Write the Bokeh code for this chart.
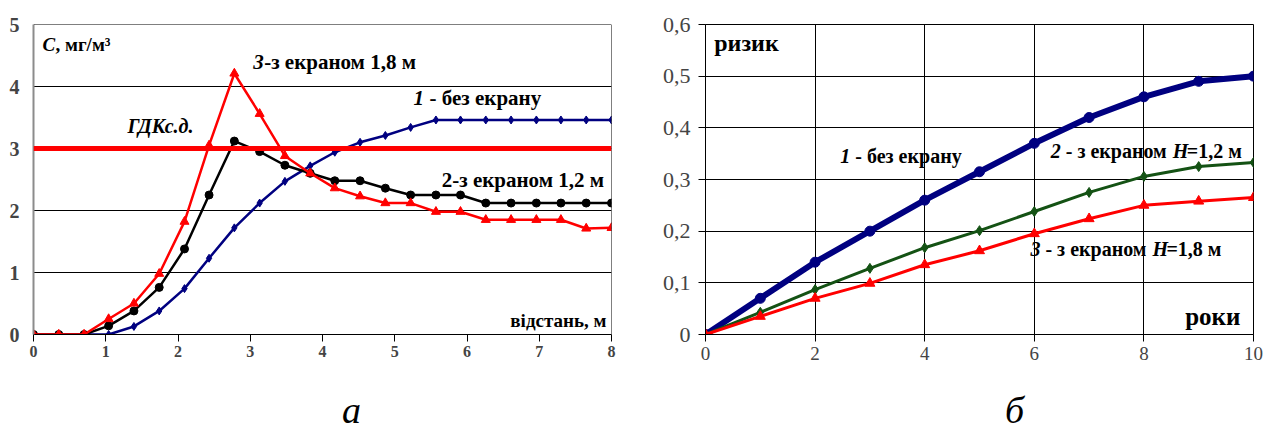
from bokeh.plotting import figure
from bokeh.layouts import row, column
from bokeh.models import Range1d, FixedTicker, Span, Label, CustomJSTickFormatter
from bokeh.core.properties import value
from bokeh.embed import file_html
from bokeh.resources import INLINE

FONT = "Liberation Serif"

# ---------- Panel а: concentration vs distance ----------
dist = [0.0, 0.35, 0.70, 1.04, 1.39, 1.74, 2.09, 2.43, 2.78, 3.13, 3.48, 3.83,
        4.17, 4.52, 4.87, 5.22, 5.57, 5.91, 6.26, 6.61, 6.96, 7.30, 7.65, 8.0]
c_no_screen = [0, 0, 0, 0, 0.13, 0.38, 0.74, 1.23, 1.72, 2.12, 2.47, 2.72,
               2.94, 3.10, 3.21, 3.34, 3.46, 3.46, 3.46, 3.46, 3.46, 3.46, 3.46, 3.46]
c_screen_12 = [0, 0, 0, 0.14, 0.38, 0.76, 1.38, 2.25, 3.12, 2.95, 2.73, 2.60,
               2.48, 2.48, 2.36, 2.25, 2.25, 2.25, 2.12, 2.12, 2.12, 2.12, 2.12, 2.12]
c_screen_18 = [0, 0, 0, 0.25, 0.50, 0.98, 1.82, 3.05, 4.21, 3.56, 2.88, 2.60,
               2.36, 2.23, 2.12, 2.12, 1.98, 1.98, 1.85, 1.85, 1.85, 1.85, 1.71, 1.72]
gdk = 3.0
x_ticks_a = [0, 1, 2, 3, 4, 5, 6, 7, 8]
y_ticks_a = [0, 1, 2, 3, 4, 5]

# ---------- Panel б: risk vs years ----------
years = [0, 1, 2, 3, 4, 5, 6, 7, 8, 9, 10]
risk_no_screen = [0, 0.070, 0.140, 0.200, 0.260, 0.315, 0.370, 0.420, 0.460, 0.490, 0.500]
risk_screen_12 = [0, 0.043, 0.087, 0.128, 0.168, 0.201, 0.238, 0.275, 0.306, 0.325, 0.333]
risk_screen_18 = [0, 0.035, 0.070, 0.099, 0.135, 0.162, 0.195, 0.224, 0.250, 0.258, 0.265]
x_ticks_b = [0, 2, 4, 6, 8, 10]
y_ticks_b = [0, 0.1, 0.2, 0.3, 0.4, 0.5, 0.6]

NAVY = "#000080"
GREEN = "#145214"
RED = "#FF0000"


def lab(p, x, y, text, size, style="bold", align="left", xoff=0, baseline="middle"):
    p.add_layout(Label(x=x, y=y, text=text, text_font=FONT, text_font_size=size,
                       text_font_style=style, text_align=align, text_baseline=baseline,
                       x_offset=xoff, text_color="black"))


def caption_fig(x_range, left, right, x, text):
    c = figure(width=636, height=60, x_range=x_range, y_range=Range1d(0, 1),
               output_backend="svg", toolbar_location=None,
               min_border_left=left, min_border_right=right, min_border_top=0, min_border_bottom=0)
    c.axis.visible = False
    c.grid.grid_line_color = None
    c.outline_line_color = None
    c.background_fill_color = "white"
    c.border_fill_color = "white"
    c.text(x=[x], y=[0.39], text=[text], text_font=value(FONT), text_font_size="38px",
           text_font_style="italic", text_align="center", text_baseline="alphabetic",
           text_color="black")
    return c


# ================= Panel а =================
p1 = figure(width=636, height=373, x_range=Range1d(0, 8), y_range=Range1d(0, 5),
            output_backend="svg", toolbar_location=None,
            min_border_left=33, min_border_right=25, min_border_top=22, min_border_bottom=35)
p1.outline_line_color = None
p1.background_fill_color = "white"
p1.border_fill_color = "white"

p1.xaxis.ticker = FixedTicker(ticks=x_ticks_a)
p1.xaxis.major_label_text_font = FONT
p1.xaxis.major_label_text_font_style = "bold"
p1.xaxis.major_label_text_font_size = "16px"
p1.xaxis.major_tick_out = 7
p1.xaxis.major_tick_in = 0
p1.xaxis.minor_tick_line_color = None
p1.xaxis.axis_line_color = "black"
p1.xaxis.major_tick_line_color = "black"
p1.xaxis.major_label_standoff = 4

p1.yaxis.ticker = FixedTicker(ticks=y_ticks_a)
p1.yaxis.major_label_text_font = FONT
p1.yaxis.major_label_text_font_style = "bold"
p1.yaxis.major_label_text_font_size = "20px"
p1.yaxis.major_tick_out = 0
p1.yaxis.major_tick_in = 0
p1.yaxis.minor_tick_line_color = None
p1.yaxis.axis_line_color = "#8c8c8c"
p1.yaxis.axis_line_width = 2
p1.yaxis.major_label_standoff = 14

p1.xgrid.grid_line_color = None
p1.ygrid.grid_line_color = "black"
p1.ygrid.grid_line_width = 1
p1.ygrid.ticker = FixedTicker(ticks=y_ticks_a)

p1.add_layout(Span(location=8, dimension="height", line_color="black", line_width=1))
p1.add_layout(Span(location=5, dimension="width", line_color="black", line_width=1))
p1.add_layout(Span(location=gdk, dimension="width", line_color=RED, line_width=5))

p1.line(dist, c_no_screen, line_color=NAVY, line_width=2.5)
p1.scatter(dist, c_no_screen, marker="diamond", size=8, fill_color=NAVY, line_color=NAVY)
p1.line(dist, c_screen_12, line_color="black", line_width=2.5)
p1.scatter(dist, c_screen_12, marker="circle", size=8, fill_color="black", line_color="black")
p1.line(dist, c_screen_18, line_color=RED, line_width=2.5)
p1.scatter(dist, c_screen_18, marker="triangle", size=9, fill_color=RED, line_color=RED)

lab(p1, 0.125, 4.68, "C", "19px", "bold italic")
lab(p1, 0.125, 4.68, ", мг/м³", "19px", "bold", xoff=13)
lab(p1, 3.04, 4.40, "3", "21px", "bold italic")
lab(p1, 3.04, 4.40, "-з екраном 1,8 м", "21px", "bold", xoff=11)
lab(p1, 5.26, 3.81, "1", "21px", "bold italic")
lab(p1, 5.26, 3.81, "- без екрану", "21px", "bold", xoff=16)
lab(p1, 1.30, 3.37, "ГДКс.д.", "20px", "bold italic")
lab(p1, 5.65, 2.50, "2-з екраном 1,2 м", "21px", "bold")
lab(p1, 7.93, 0.22, "відстань, м", "19px", "bold", align="right")

# ================= Panel б =================
p2 = figure(width=636, height=373, x_range=Range1d(0, 10), y_range=Range1d(0, 0.6),
            output_backend="svg", toolbar_location=None,
            min_border_left=69, min_border_right=19, min_border_top=24, min_border_bottom=39)
p2.outline_line_color = "black"
p2.outline_line_width = 1
p2.background_fill_color = "white"
p2.border_fill_color = "white"

p2.xaxis.ticker = FixedTicker(ticks=x_ticks_b)
p2.xaxis.major_label_text_font = FONT
p2.xaxis.major_label_text_font_style = "normal"
p2.xaxis.major_label_text_font_size = "19px"
p2.xaxis.major_tick_out = 7
p2.xaxis.major_tick_in = 0
p2.xaxis.minor_tick_line_color = None
p2.xaxis.axis_line_color = "black"
p2.xaxis.major_label_standoff = 5

p2.yaxis.ticker = FixedTicker(ticks=y_ticks_b)
p2.yaxis.formatter = CustomJSTickFormatter(
    code="return Math.abs(tick) < 1e-9 ? '0' : tick.toFixed(1).replace('.', ',');")
p2.yaxis.major_label_text_font = FONT
p2.yaxis.major_label_text_font_style = "normal"
p2.yaxis.major_label_text_font_size = "22px"
p2.yaxis.major_tick_out = 7
p2.yaxis.major_tick_in = 0
p2.yaxis.minor_tick_line_color = None
p2.yaxis.axis_line_color = "black"
p2.yaxis.major_label_standoff = 8

p2.xgrid.grid_line_color = "black"
p2.xgrid.ticker = FixedTicker(ticks=x_ticks_b)
p2.ygrid.grid_line_color = "black"
p2.ygrid.ticker = FixedTicker(ticks=y_ticks_b)

p2.line(years, risk_no_screen, line_color=NAVY, line_width=6)
p2.scatter(years, risk_no_screen, marker="circle", size=10, fill_color=NAVY, line_color=NAVY)
p2.line(years, risk_screen_12, line_color=GREEN, line_width=3)
p2.scatter(years, risk_screen_12, marker="diamond", size=10, fill_color=GREEN, line_color=GREEN)
p2.line(years, risk_screen_18, line_color=RED, line_width=3)
p2.scatter(years, risk_screen_18, marker="triangle", size=10, fill_color=RED, line_color=RED)

lab(p2, 0.16, 0.565, "ризик", "24px", "bold")
lab(p2, 2.46, 0.346, "1", "20px", "bold italic")
lab(p2, 2.46, 0.346, "- без екрану", "20px", "bold", xoff=15)
lab(p2, 6.30, 0.356, "2", "20px", "bold italic")
lab(p2, 6.30, 0.356, "- з екраном", "20px", "bold", xoff=15)
lab(p2, 6.30, 0.356, "H", "20px", "bold italic", xoff=122)
lab(p2, 6.30, 0.356, "=1,2 м", "20px", "bold", xoff=136)
lab(p2, 5.93, 0.166, "3", "20px", "bold italic")
lab(p2, 5.93, 0.166, "- з екраном", "20px", "bold", xoff=15)
lab(p2, 5.93, 0.166, "H", "20px", "bold italic", xoff=122)
lab(p2, 5.93, 0.166, "=1,8 м", "20px", "bold", xoff=136)
lab(p2, 9.76, 0.035, "роки", "25px", "bold", align="right")

# ================= Captions =================
c1 = caption_fig(p1.x_range, 33, 25, 4.40, "а")
c2 = caption_fig(p2.x_range, 69, 19, 5.64, "б")

layout = column(row(p1, p2), row(c1, c2))
open("out.html", "w").write(file_html(layout, INLINE))
